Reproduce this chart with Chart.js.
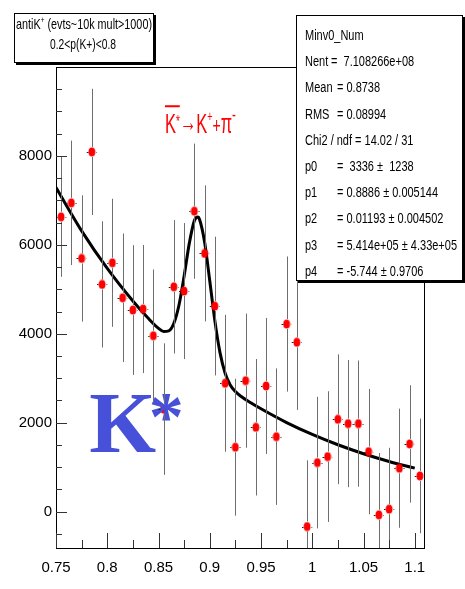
<!DOCTYPE html>
<html>
<head>
<meta charset="utf-8">
<script src="https://cdn.jsdelivr.net/npm/chart.js@4.4.1/dist/chart.umd.min.js"></script>
<style>
  html, body { margin: 0; padding: 0; background: #fff; }
  #wrap { width: 465px; height: 589px; }
</style>
</head>
<body>
<div id="wrap"><canvas id="chart"></canvas></div>
<script>
// invariant mass bins (GeV/c^2) and counts
const massBins = [0.755, 0.765, 0.775, 0.785, 0.795, 0.805, 0.815, 0.825, 0.835, 0.845,
                  0.855, 0.865, 0.875, 0.885, 0.895, 0.905, 0.915, 0.925, 0.935, 0.945,
                  0.955, 0.965, 0.975, 0.985, 0.995, 1.005, 1.015, 1.025, 1.035, 1.045,
                  1.055, 1.065, 1.075, 1.085, 1.095, 1.105];
const counts = [6629, 6944, 5694, 8090, 5110, 5596, 4809, 4533, 4555, 3955,
                2305, 5056, 4960, 6757, 5807, 4622, 2885, 1447, 2944, 1896,
                2825, 1685, 4218, 3807, -337, 1101, 1236, 2076, 1978, 1978,
                1348, -74, 54, 975, 1521, 802];
const countErrors = [1350, 1400, 1420, 1420, 1420, 1440, 1446, 1460, 1440, 1490,
                     1480, 1500, 1530, 1520, 1530, 1560, 1540, 1540, 1510, 1535,
                     1530, 1535, 1520, 1520, 1490, 1480, 1470, 1460, 1430, 1420,
                     1410, 1390, 1380, 1340, 1320, 1290];
const binHalfWidth = 0.005;

// fitted curve
const fitX = [0.75, 0.775, 0.8, 0.825, 0.84, 0.85, 0.855, 0.86, 0.865, 0.87, 0.875, 0.88,
              0.885, 0.8886, 0.89, 0.895, 0.9, 0.905, 0.91, 0.915, 0.92, 0.925, 0.93,
              0.94, 0.95, 0.975, 1.0, 1.025, 1.05, 1.075, 1.1];
const fitY = [7287, 6313, 5469, 4737, 4347, 4122, 4050, 4064, 4235, 4647, 5296, 6027,
              6544, 6623, 6573, 6057, 5192, 4289, 3575, 3112, 2849, 2699, 2600,
              2447, 2311, 2001, 1734, 1502, 1301, 1127, 976];

const xTickValues = [0.75, 0.8, 0.85, 0.9, 0.95, 1, 1.05, 1.1];
const xTickLabels = ['0.75', '0.8', '0.85', '0.9', '0.95', '1', '1.05', '1.1'];
const yTickValues = [0, 2000, 4000, 6000, 8000];
const yTickLabels = ['0', '2000', '4000', '6000', '8000'];

const statsNames = ['Minv0_Num', 'Nent', 'Mean', 'RMS', 'Chi2 / ndf = 14.02 / 31', 'p0', 'p1', 'p2', 'p3', 'p4'];
const statsValues = ['', '=  7.108266e+08', '= 0.8738', '= 0.08994', '',
                     '=  3336 \u00b1  1238', '= 0.8886 \u00b1 0.005144', '= 0.01193 \u00b1 0.004502',
                     '= 5.414e+05 \u00b1 4.33e+05', '= -5.744 \u00b1 0.9706'];

const FONT = "'Liberation Sans Narrow', 'Liberation Sans', Arial, sans-serif";

// red elliptic marker like the ROOT one
const marker = document.createElement('canvas');
marker.width = 8; marker.height = 10;
(() => {
  const m = marker.getContext('2d');
  m.fillStyle = '#ff0000';
  m.beginPath();
  m.ellipse(4, 5, 3.4, 4.6, 0, 0, Math.PI * 2);
  m.fill();
})();

// draws a list of [text, sizeFactor, rise] runs squeezed horizontally
function measureRuns(ctx, parts, size) {
  let w = 0;
  for (const [t, k] of parts) {
    ctx.font = (size * k) + 'px ' + FONT;
    w += ctx.measureText(t).width;
  }
  return w;
}
function drawRuns(ctx, parts, x, y, size, sx) {
  ctx.save();
  ctx.translate(x, y);
  ctx.scale(sx, 1);
  let cx = 0;
  const pos = [];
  for (const [t, k, rise] of parts) {
    ctx.font = (size * k) + 'px ' + FONT;
    ctx.fillText(t, cx, -rise * size);
    const w = ctx.measureText(t).width;
    pos.push([x + cx * sx, x + (cx + w) * sx]);
    cx += w;
  }
  ctx.restore();
  return pos;
}

function shadowBox(ctx, x, y, w, h, sh) {
  ctx.fillStyle = '#000';
  ctx.fillRect(x + sh, y + sh, w, h);
  ctx.fillStyle = '#fff';
  ctx.fillRect(x, y, w, h);
  ctx.strokeStyle = '#000';
  ctx.lineWidth = 1;
  ctx.strokeRect(x + 0.5, y + 0.5, w - 1, h - 1);
}

const overlay = {
  id: 'overlay',
  beforeDraw(chart) {
    const ctx = chart.ctx;
    ctx.save();
    ctx.fillStyle = '#fff';
    ctx.fillRect(0, 0, chart.width, chart.height);
    ctx.restore();
  },
  afterDatasetsDraw(chart) {
    const { ctx, chartArea: a, scales: { x, y } } = chart;
    ctx.save();

    // big K* label
    ctx.fillStyle = '#4650d8';
    ctx.font = 'bold 86px "Liberation Serif", "DejaVu Serif", serif';
    ctx.textBaseline = 'alphabetic';
    ctx.fillText('K', x.getPixelForValue(0.7825), y.getPixelForValue(1340));
    ctx.font = 'bold 70px "Liberation Serif", "DejaVu Serif", serif';
    ctx.fillText('*', x.getPixelForValue(0.8405), y.getPixelForValue(1620));

    // error bars, gap around the marker
    ctx.beginPath();
    ctx.rect(a.left, a.top, a.width, a.height);
    ctx.clip();
    ctx.lineWidth = 1;
    massBins.forEach((m, i) => {
      const px = Math.round(x.getPixelForValue(m)) + 0.5;
      const py = y.getPixelForValue(counts[i]);
      const top = y.getPixelForValue(counts[i] + countErrors[i]);
      const bot = y.getPixelForValue(counts[i] - countErrors[i]);
      ctx.strokeStyle = '#6e6e6e';
      ctx.beginPath();
      ctx.moveTo(px, top); ctx.lineTo(px, py - 5);
      ctx.moveTo(px, py + 5); ctx.lineTo(px, bot);
      ctx.stroke();
      const l = x.getPixelForValue(m - binHalfWidth);
      const r = x.getPixelForValue(m + binHalfWidth);
      const yy = Math.round(py) + 0.5;
      ctx.strokeStyle = '#222';
      ctx.beginPath();
      ctx.moveTo(l, yy); ctx.lineTo(px - 4, yy);
      ctx.moveTo(px + 4, yy); ctx.lineTo(r, yy);
      ctx.stroke();
    });
    ctx.restore();

    ctx.save();
    // frame
    ctx.strokeStyle = '#000';
    ctx.lineWidth = 1;
    ctx.strokeRect(Math.round(a.left) + 0.5, Math.round(a.top) + 0.5,
                   Math.round(a.width) - 1, Math.round(a.height));
    // ticks drawn inward
    ctx.beginPath();
    for (let v = 0.75; v <= 1.1001; v += 0.025) {
      const px = Math.round(x.getPixelForValue(v)) + 0.5;
      const major = Math.abs(v / 0.05 - Math.round(v / 0.05)) < 1e-6;
      ctx.moveTo(px, a.bottom);
      ctx.lineTo(px, a.bottom - (major ? 15 : 8));
    }
    for (let v = -500; v <= 9500; v += 500) {
      const py = Math.round(y.getPixelForValue(v)) + 0.5;
      const major = v % 2000 === 0;
      ctx.moveTo(a.left, py);
      ctx.lineTo(a.left + (major ? 11 : 6), py);
    }
    ctx.strokeStyle = '#333';
    ctx.stroke();

    // decay label
    ctx.fillStyle = '#ff0000';
    ctx.textBaseline = 'alphabetic';
    const decay = [['K', 1, 0], ['*', 0.6, 0.22], ['\u2192', 1.0, 0.1], ['K', 1, 0],
                   ['+', 0.55, 0.45], ['+', 0.85, 0], ['\u03c0', 1, 0], ['-', 0.7, 0.45]];
    const dw = measureRuns(ctx, decay, 27);
    const dx = x.getPixelForValue(0.8563);
    const dy = y.getPixelForValue(8510);
    const pos = drawRuns(ctx, decay, dx, dy, 27, 71 / dw);
    ctx.fillRect(pos[0][0], dy - 28, pos[1][1] - pos[0][0], 2);

    // title box
    shadowBox(ctx, 14, 13, 140, 50, 2);
    ctx.fillStyle = '#000';
    const t1 = [['antiK', 1, 0], ['+', 0.6, 0.4], [' (evts~10k mult>1000)', 1, 0]];
    const w1 = measureRuns(ctx, t1, 15);
    drawRuns(ctx, t1, 84 - 136 / 2, 29, 15, 136 / w1);
    const t2 = [['0.2<p(K+)<0.8', 1, 0]];
    const w2 = measureRuns(ctx, t2, 15);
    drawRuns(ctx, t2, 83 - 66 / 2, 48.5, 15, 66 / w2);

    // stats box
    shadowBox(ctx, 296, 15, 167, 266, 2);
    ctx.fillStyle = '#000';
    statsNames.forEach((n, i) => {
      const by = 35 + 26.2 * i + 5;
      drawRuns(ctx, [[n, 1, 0]], 305, by, 14, 0.785);
      if (statsValues[i]) drawRuns(ctx, [[statsValues[i], 1, 0]], i === 1 ? 331 : 337, by, 14, 0.785);
    });
    ctx.restore();
  }
};

const pointData = massBins.map((m, i) => ({ x: m, y: counts[i] }));
const fitData = fitX.map((v, i) => ({ x: v, y: fitY[i] }));

new Chart(document.getElementById('chart'), {
  type: 'scatter',
  data: {
    datasets: [
      {
        label: 'Minv0_Num',
        data: pointData,
        pointStyle: marker,
        pointRadius: 4,
        showLine: false,
        order: 0
      },
      {
        label: 'fit',
        data: fitData,
        showLine: true,
        borderColor: '#000',
        borderWidth: 3,
        pointRadius: 0,
        cubicInterpolationMode: 'monotone',
        fill: false,
        order: 1
      }
    ]
  },
  options: {
    responsive: true,
    maintainAspectRatio: false,
    animation: false,
    layout: { padding: { top: 67, right: 40, left: 0, bottom: 0 } },
    plugins: { legend: { display: false }, tooltip: { enabled: false } },
    scales: {
      x: {
        type: 'linear',
        min: 0.75,
        max: 1.11,
        grid: { display: false, drawTicks: false },
        border: { display: false },
        afterBuildTicks: (s) => { s.ticks = xTickValues.map(v => ({ value: v })); },
        afterFit: (s) => { s.height = 41; },
        ticks: {
          autoSkip: false,
          maxRotation: 0,
          padding: 11,
          color: '#000',
          font: { family: FONT, size: 15 },
          callback: (v, i) => xTickLabels[i]
        }
      },
      y: {
        type: 'linear',
        min: -820,
        max: 10000,
        grid: { display: false, drawTicks: false },
        border: { display: false },
        afterBuildTicks: (s) => { s.ticks = yTickValues.map(v => ({ value: v })); },
        afterFit: (s) => { s.width = 56; },
        ticks: {
          autoSkip: false,
          padding: 4,
          color: '#000',
          font: { family: FONT, size: 15 },
          callback: (v, i) => yTickLabels[i]
        }
      }
    }
  },
  plugins: [overlay]
});
</script>
</body>
</html>
